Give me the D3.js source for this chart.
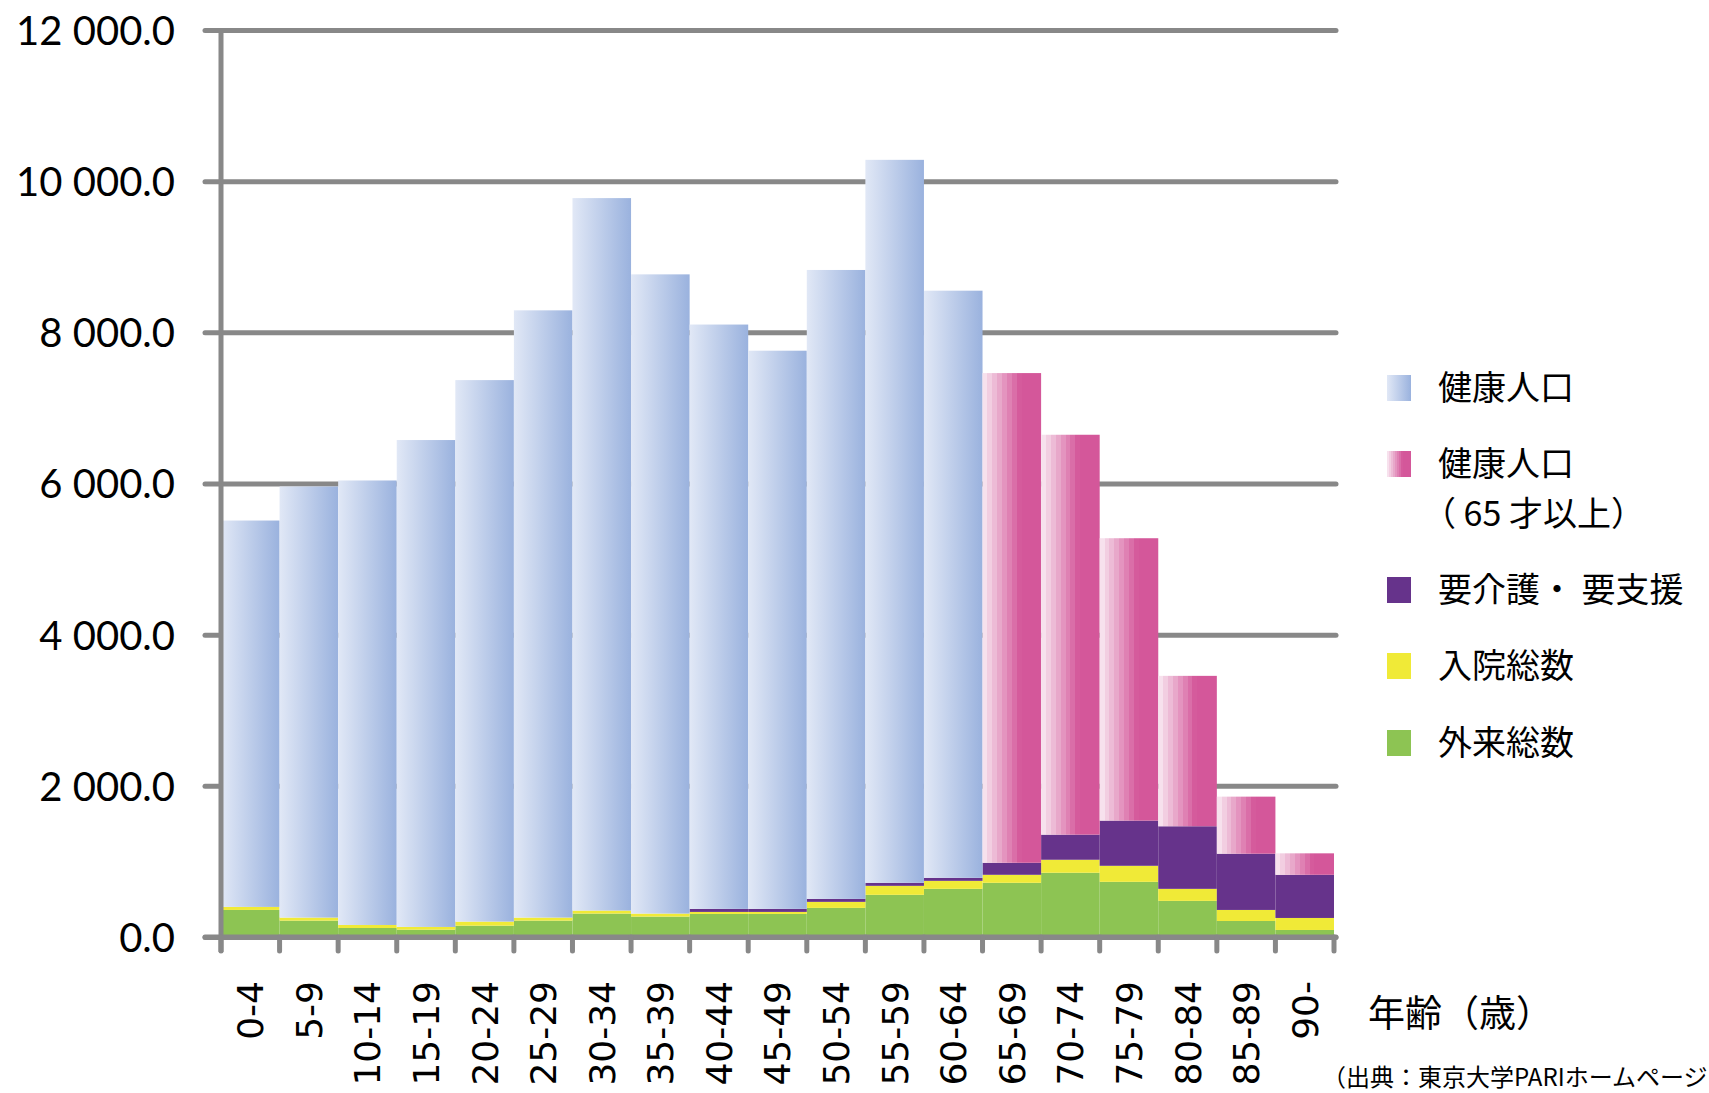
<!DOCTYPE html>
<html>
<head>
<meta charset="utf-8">
<script src="https://cdn.jsdelivr.net/npm/d3@7"></script>
<style>
  body { margin: 0; background: #fff; }
  svg { display: block; }
  .ylab text { font-family: Lato, "Open Sans", sans-serif; font-size: 40px; fill: #000; }
  .xlab text { font-family: "DejaVu Sans", sans-serif; font-size: 36px; fill: #000; }
  .jp { font-family: "Noto Sans CJK JP", sans-serif; fill: #000; }
</style>
</head>
<body>
<div id="chart"></div>
<script>
const ages = ["0-4", "5-9", "10-14", "15-19", "20-24", "25-29", "30-34", "35-39", "40-44", "45-49",
  "50-54", "55-59", "60-64", "65-69", "70-74", "75-79", "80-84", "85-89", "90-"]

// 外来総数
const outpatient = [358, 217, 119, 97, 150, 217, 310, 270, 305, 305, 385, 558, 637, 717, 850, 730, 478, 212, 93]
// 入院総数
const inpatient = [40, 40, 40, 36, 54, 40, 40, 40, 27, 27, 80, 119, 106, 106, 172, 212, 159, 146, 159]
// 要介護・要支援
const care = [0, 0, 0, 0, 0, 0, 0, 0, 40, 40, 39, 40, 40, 159, 332, 598, 828, 744, 571]
// 健康人口
const healthy = [5112, 5703, 5881, 6442, 7164, 8034, 9426, 8457, 7731, 7385, 8321, 9565, 7768, 0, 0, 0, 0, 0, 0]
// 健康人口（65才以上）
const healthy65 = [0, 0, 0, 0, 0, 0, 0, 0, 0, 0, 0, 0, 0, 6479, 5291, 3736, 1990, 755, 284]

const yTicks = [0, 2000, 4000, 6000, 8000, 10000, 12000]

const legendLabels = [
  { key: "healthy", lines: ["健康人口"] },
  { key: "healthy65", lines: ["健康人口", "（ 65 才以上）"] },
  { key: "care", lines: ["要介護・ 要支援"] },
  { key: "inpatient", lines: ["入院総数"] },
  { key: "outpatient", lines: ["外来総数"] }
]

const keys = ["outpatient", "inpatient", "care", "healthy", "healthy65"]
const rows = ages.map((a, i) => ({
  age: a,
  outpatient: outpatient[i],
  inpatient: inpatient[i],
  care: care[i],
  healthy: healthy[i],
  healthy65: healthy65[i]
}))

const width = 1709
const height = 1093
const grey = "#888888"

const svg = d3.select("#chart").append("svg")
  .attr("width", width)
  .attr("height", height)

// gradients
const defs = svg.append("defs")
const blueGrad = defs.append("linearGradient").attr("id", "blueGrad")
blueGrad.append("stop").attr("offset", 0).attr("stop-color", "#e1e8f6")
blueGrad.append("stop").attr("offset", 1).attr("stop-color", "#9ab2de")

// pink one is banded, not smooth
const pinkGrad = defs.append("linearGradient").attr("id", "pinkGrad")
const pinkCol = d3.interpolateRgb("#f7e1ed", "#d4579a")
const nBands = 12
for (let b = 0; b < nBands; b++) {
  const c = pinkCol(Math.min(1, b / (nBands * 0.6)))
  pinkGrad.append("stop").attr("offset", b / nBands).attr("stop-color", c)
  pinkGrad.append("stop").attr("offset", (b + 1) / nBands).attr("stop-color", c)
}

const fills = {
  outpatient: "#8dc453",
  inpatient: "#f0ea37",
  care: "#66338b",
  healthy: "url(#blueGrad)",
  healthy65: "url(#pinkGrad)"
}

const xScale = d3.scaleBand().domain(ages).range([221, 1334]).padding(0)
const yScale = d3.scaleLinear().domain([0, 12000]).range([937, 30])

const fmt = d3.formatLocale({ decimal: ".", thousands: " ", grouping: [3], currency: ["", ""] }).format(",.1f")

// gridlines + y labels
const yAxis = svg.append("g")
  .attr("class", "ylab")
  .attr("transform", "translate(205,0)")
  .call(d3.axisLeft(yScale).tickValues(yTicks).tickFormat(fmt).tickSize(-1131).tickPadding(30))
yAxis.select(".domain").remove()
yAxis.selectAll(".tick line")
  .attr("stroke", grey)
  .attr("stroke-width", 5)
  .attr("stroke-linecap", "round")
yAxis.selectAll(".tick text").attr("dy", "0.36em")

// bars
const stacked = d3.stack().keys(keys)(rows)
svg.append("g")
  .selectAll("g")
  .data(stacked)
  .join("g")
  .attr("fill", d => fills[d.key])
  .selectAll("rect")
  .data(d => d.filter(s => s[1] - s[0] > 0))
  .join("rect")
  .attr("x", d => xScale(d.data.age))
  .attr("y", d => yScale(d[1]))
  .attr("width", xScale.bandwidth())
  .attr("height", d => yScale(d[0]) - yScale(d[1]))

// vertical axis line
svg.append("line")
  .attr("x1", 221).attr("x2", 221)
  .attr("y1", yScale(12000)).attr("y2", 952)
  .attr("stroke", grey).attr("stroke-width", 5)

// zero line drawn again on top of bars
svg.append("line")
  .attr("x1", 205).attr("x2", 1336)
  .attr("y1", yScale(0)).attr("y2", yScale(0))
  .attr("stroke", grey).attr("stroke-width", 5).attr("stroke-linecap", "round")

// x tick marks on band edges
const edge = d3.scaleLinear().domain([0, ages.length]).range(xScale.range())
svg.append("g")
  .selectAll("line")
  .data(d3.range(ages.length + 1))
  .join("line")
  .attr("x1", d => edge(d)).attr("x2", d => edge(d))
  .attr("y1", yScale(0)).attr("y2", 951)
  .attr("stroke", grey).attr("stroke-width", 5).attr("stroke-linecap", "round")

// x labels rotated
const xAxis = svg.append("g")
  .attr("class", "xlab")
  .attr("transform", `translate(0,${yScale(0)})`)
  .call(d3.axisBottom(xScale).tickSize(0))
xAxis.select(".domain").remove()
xAxis.selectAll(".tick text")
  .attr("transform", "rotate(-90)")
  .attr("text-anchor", "end")
  .attr("x", -44)
  .attr("y", 0)
  .attr("dy", "0.36em")

svg.append("text")
  .attr("class", "jp")
  .attr("x", 1368)
  .attr("y", 1027)
  .style("font-size", "37px")
  .text("年齢（歳）")

// source note runs past the right edge, as in the original
svg.append("text")
  .attr("class", "jp")
  .attr("x", 1322)
  .attr("y", 1086)
  .style("font-size", "24px")
  .text("（出典：東京大学PARIホームページより）")

// legend
const legendY = [388, 464, 590, 666, 743]
const legend = svg.append("g")
legendLabels.forEach((l, i) => {
  const g = legend.append("g").attr("transform", `translate(1387,${legendY[i]})`)
  g.append("rect")
    .attr("x", 0).attr("y", -13)
    .attr("width", 24).attr("height", 26)
    .attr("fill", fills[l.key])
  l.lines.forEach((t, j) => {
    g.append("text")
      .attr("class", "jp")
      .attr("x", j === 0 ? 51 : 35)
      .attr("y", j * 50)
      .attr("dy", "0.36em")
      .style("font-size", "34px")
      .text(t)
  })
})
</script>
</body>
</html>
